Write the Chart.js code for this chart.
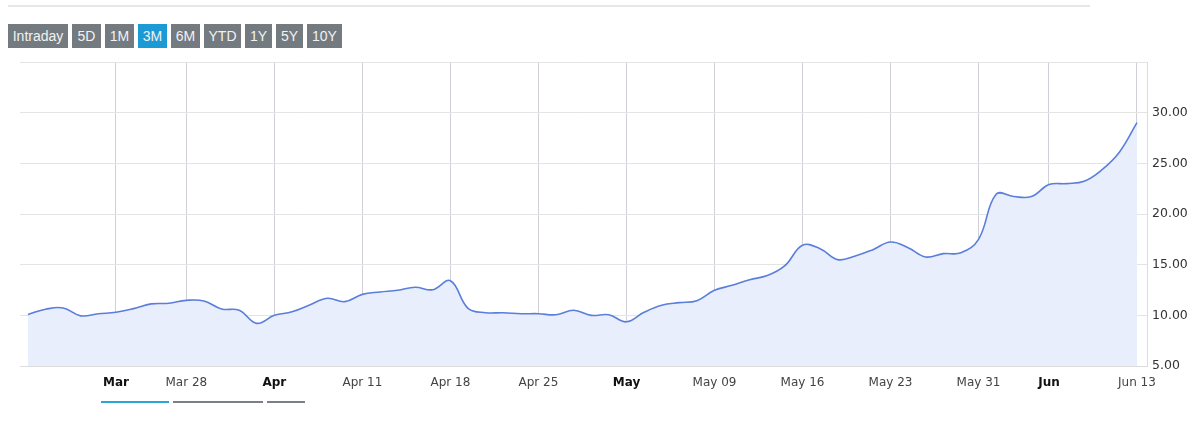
<!DOCTYPE html>
<html>
<head>
<meta charset="utf-8">
<script src="https://cdn.jsdelivr.net/npm/chart.js@4.4.1/dist/chart.umd.min.js"></script>
<style>
  html, body { margin: 0; padding: 0; background: #fff; }
  #wrap { position: relative; width: 1197px; height: 422px; overflow: hidden; }
  #topline { position: absolute; left: 8px; top: 5px; width: 1082px; height: 2px; background: #e6e6e6; }
  .btn { position: absolute; top: 24px; height: 24px; line-height: 24px; background: #737a80; color: #f2f2f2;
         font-family: "Liberation Sans", Arial, sans-serif; font-size: 14px; text-align: center; }
  .btn.sel { background: #1b9ad6; }
  .bar { position: absolute; top: 401px; height: 2px; background: #7b8086; }
  .bar.sel { background: #2aa7d8; }
  canvas { position: absolute; left: 0; top: 0; }
</style>
</head>
<body>
<div id="wrap">
  <div id="topline"></div>
  <div class="btn" style="left:8px;width:60px">Intraday</div>
  <div class="btn" style="left:72px;width:29px">5D</div>
  <div class="btn" style="left:105px;width:29px">1M</div>
  <div class="btn sel" style="left:138px;width:29px">3M</div>
  <div class="btn" style="left:171px;width:29px">6M</div>
  <div class="btn" style="left:204px;width:37px">YTD</div>
  <div class="btn" style="left:245px;width:27px">1Y</div>
  <div class="btn" style="left:276px;width:27px">5Y</div>
  <div class="btn" style="left:307px;width:35px">10Y</div>
  <div class="bar sel" style="left:101px;width:68px"></div>
  <div class="bar" style="left:173px;width:90px"></div>
  <div class="bar" style="left:267px;width:38px"></div>
  <canvas id="c" width="1197" height="422"></canvas>
</div>
<script>
// Trading days (categories), Mar 14 – Jun 13
const dates = [
  "Mar 14","Mar 15","Mar 16","Mar 17","Mar 18",
  "Mar 21","Mar 22","Mar 23","Mar 24",
  "Mar 28","Mar 29","Mar 30","Mar 31","Apr 01",
  "Apr 04","Apr 05","Apr 06","Apr 07","Apr 08",
  "Apr 11","Apr 12","Apr 13","Apr 14","Apr 15",
  "Apr 18","Apr 19","Apr 20","Apr 21","Apr 22",
  "Apr 25","Apr 26","Apr 27","Apr 28","Apr 29",
  "May 02","May 03","May 04","May 05","May 06",
  "May 09","May 10","May 11","May 12","May 13",
  "May 16","May 17","May 18","May 19","May 20",
  "May 23","May 24","May 25","May 26","May 27",
  "May 31","Jun 01","Jun 02","Jun 03",
  "Jun 06","Jun 07","Jun 08","Jun 09","Jun 10",
  "Jun 13"
];
const prices = [
  10.09, 10.60, 10.73, 9.95, 10.16,
  10.30, 10.66, 11.13, 11.19,
  11.48, 11.42, 10.63, 10.50, 9.21,
  10.00, 10.35, 11.02, 11.68, 11.35,
  12.07, 12.30, 12.47, 12.77, 12.53,
  13.42, 10.69, 10.26, 10.26, 10.16,
  10.16, 10.06, 10.50, 10.00, 10.06,
  9.36, 10.30, 10.99, 11.25, 11.45,
  12.47, 12.96, 13.52, 13.92, 14.90,
  16.91, 16.58, 15.50, 15.86, 16.48,
  17.24, 16.68, 15.76, 16.09, 16.17,
  17.50, 21.95, 21.72, 21.72,
  22.90, 23.00, 23.23, 24.35, 26.10,
  29.02
];
// X-axis tick labels (by trading-day position); bold ones mark month starts
const xTickDates = ["Mar 21","Mar 28","Apr 04","Apr 11","Apr 18","Apr 25","May 02","May 09","May 16","May 23","May 31","Jun 06","Jun 13"];
const xTickLabels = ["Mar","Mar 28","Apr","Apr 11","Apr 18","Apr 25","May","May 09","May 16","May 23","May 31","Jun","Jun 13"];
const xTickBold = [true,false,true,false,false,false,true,false,false,false,false,true,false];
const yTicks = [5, 10, 15, 20, 25, 30, 35];
const yLabels = ["5.00","10.00","15.00","20.00","25.00","30.00",""];

const tickIdx = xTickDates.map(d => dates.indexOf(d));
const points = prices.map((v, i) => ({ x: i, y: v }));
const isBold = ctx => !!(ctx && ctx.tick && xTickBold[tickIdx.indexOf(ctx.tick.value)]);

new Chart(document.getElementById('c'), {
  type: 'line',
  data: {
    datasets: [{
      data: points,
      borderColor: '#5a7edb',
      borderWidth: 1.6,
      backgroundColor: '#e8eefb',
      fill: 'start',
      tension: 0.4,
      pointRadius: 0,
      pointHoverRadius: 0
    }]
  },
  options: {
    responsive: false,
    animation: false,
    events: [],
    layout: { padding: { left: 20, top: 62, right: 0, bottom: 0 } },
    plugins: { legend: { display: false }, tooltip: { enabled: false } },
    scales: {
      x: {
        type: 'linear',
        min: -0.45,
        max: 63.57,
        afterBuildTicks: s => { s.ticks = tickIdx.map(v => ({ value: v })); },
        afterFit: s => { s.height = 56; },
        grid: { color: '#cfd0d8', drawTicks: false },
        border: { display: true, color: '#dcdcdc' },
        ticks: {
          padding: 10,
          maxRotation: 0,
          autoSkip: false,
          color: ctx => isBold(ctx) ? '#111' : '#444',
          font: ctx => ({ family: '"DejaVu Sans", Verdana, sans-serif', size: 12,
                          weight: isBold(ctx) ? 'bold' : 'normal' }),
          callback: v => xTickLabels[tickIdx.indexOf(v)]
        }
      },
      y: {
        position: 'right',
        min: 5,
        max: 35,
        afterBuildTicks: s => { s.ticks = yTicks.map(v => ({ value: v })); },
        afterFit: s => { s.width = 50; },
        grid: { color: '#e4e4e4', drawTicks: false },
        border: { display: true, color: '#dcdcdc' },
        ticks: {
          padding: 5,
          color: '#333',
          font: { family: '"DejaVu Sans", Verdana, sans-serif', size: 12.5 },
          callback: v => yLabels[yTicks.indexOf(v)]
        }
      }
    }
  }
});
</script>
</body>
</html>
